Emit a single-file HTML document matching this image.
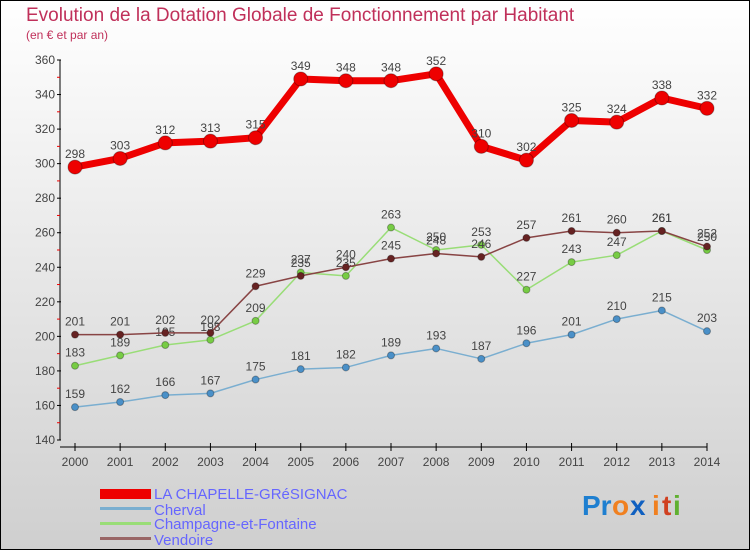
<!DOCTYPE html>
<html><head><meta charset="utf-8"><style>
body{margin:0}
svg{display:block;font-family:"Liberation Sans",sans-serif}
</style></head><body>
<svg width="750" height="550" xmlns="http://www.w3.org/2000/svg" id="chart">
<defs><linearGradient id="bg" x1="0" y1="0" x2="0" y2="1"><stop offset="0" stop-color="#ffffff"/><stop offset="1" stop-color="#cfcfcf"/></linearGradient></defs>
<rect x="0.5" y="0.5" width="749" height="549" fill="url(#bg)" stroke="#000"/>
<text x="26" y="21" font-size="19" fill="#c0305a">Evolution de la Dotation Globale de Fonctionnement par Habitant</text>
<text x="26" y="39" font-size="12" fill="#c0305a">(en € et par an)</text>
<g id="axes"></g>
<g id="series"></g>
<g>
<rect x="100" y="489" width="51" height="10" fill="#e00"/>
<text x="154" y="499" font-size="15" fill="#6666ff">LA CHAPELLE-GRéSIGNAC</text>
<rect x="100" y="507" width="51" height="3" fill="#7aaed0"/>
<text x="154" y="515" font-size="15" fill="#6666ff">Cherval</text>
<rect x="100" y="522" width="51" height="3" fill="#99dd77"/>
<text x="154" y="529" font-size="15" fill="#6666ff">Champagne-et-Fontaine</text>
<rect x="100" y="537" width="51" height="3" fill="#996666"/>
<text x="154" y="545" font-size="15" fill="#6666ff">Vendoire</text>
</g>
<g font-size="28" font-weight="bold">
<text x="582" y="515" fill="#1e7fd0">Pr</text><text x="612" y="515" fill="#f08020">o</text><text x="630" y="515" fill="#1060c0">x</text><text x="652" y="515" fill="#f08020">i</text><text x="662" y="515" fill="#d04020">t</text><text x="673" y="515" fill="#60b030">i</text>
</g>
</svg>
<script>
const years=[2000,2001,2002,2003,2004,2005,2006,2007,2008,2009,2010,2011,2012,2013,2014];
const chapelle=[298,303,312,313,315,349,348,348,352,310,302,325,324,338,332];
const cherval=[159,162,166,167,175,181,182,189,193,187,196,201,210,215,203];
const champagne=[183,189,195,198,209,237,235,263,250,253,227,243,247,261,250];
const vendoire=[201,201,202,202,229,235,240,245,248,246,257,261,260,261,252];
const yTicks=[140,160,180,200,220,240,260,280,300,320,340,360];
const NS="http://www.w3.org/2000/svg";
const x=i=>75+i*(707-75)/(years.length-1);
const y=v=>440-(v-140)*(380/220);
function mk(t,a,p){const e=document.createElementNS(NS,t);for(const k in a)e.setAttribute(k,a[k]);p.appendChild(e);return e;}
const ax=document.getElementById('axes');
let l=mk('line',{x1:60,y1:60,x2:60,y2:440,stroke:'#000'},ax);


l=mk('line',{x1:60,y1:447,x2:707,y2:447,stroke:'#000'},ax);


yTicks.forEach(v=>{
 mk('line',{x1:57,x2:61,y1:y(v),y2:y(v),stroke:'#000'},ax);
 if(v<360) mk('line',{x1:57,x2:60,y1:y(v+10),y2:y(v+10),stroke:'#e00'},ax);
 const t=mk('text',{x:55,y:y(v)+4,'text-anchor':'end','font-size':12,fill:'#444'},ax);t.textContent=v;
 
 
});
years.forEach((yr,i)=>{
 mk('line',{x1:x(i),x2:x(i),y1:443,y2:451,stroke:'#000'},ax);
 const t=mk('text',{x:x(i),y:466,'text-anchor':'middle','font-size':12,fill:'#444'},ax);t.textContent=yr;
 
 
});
const sg=document.getElementById('series');
function series(vals,color,w,r,name,dot){
 const g=mk('g',{},sg);
 
 
 mk('polyline',{points:vals.map((v,i)=>x(i)+','+y(v)).join(' '),fill:'none',stroke:color,'stroke-width':w,'stroke-linejoin':'round'},g);
 vals.forEach((v,i)=>{
  const c=mk('circle',{cx:x(i),cy:y(v),r:r,fill:dot,stroke:'rgba(0,0,0,0.3)'},g);
  
  
  const t=mk('text',{x:x(i),y:y(v)-9,'text-anchor':'middle','font-size':12,fill:'#444'},g);t.textContent=v;
  
  
 });
}
series(cherval,'#7aaed0',1.5,3.5,'series-cherval','#4a90c8');
series(champagne,'#99dd77',1.5,3.5,'series-champagne','#77cc44');
series(vendoire,'#884444',1.5,3.5,'series-vendoire','#662222');
series(chapelle,'#ee0000',7,7,'series-chapelle','#ee0000');
</script>
</body></html>
